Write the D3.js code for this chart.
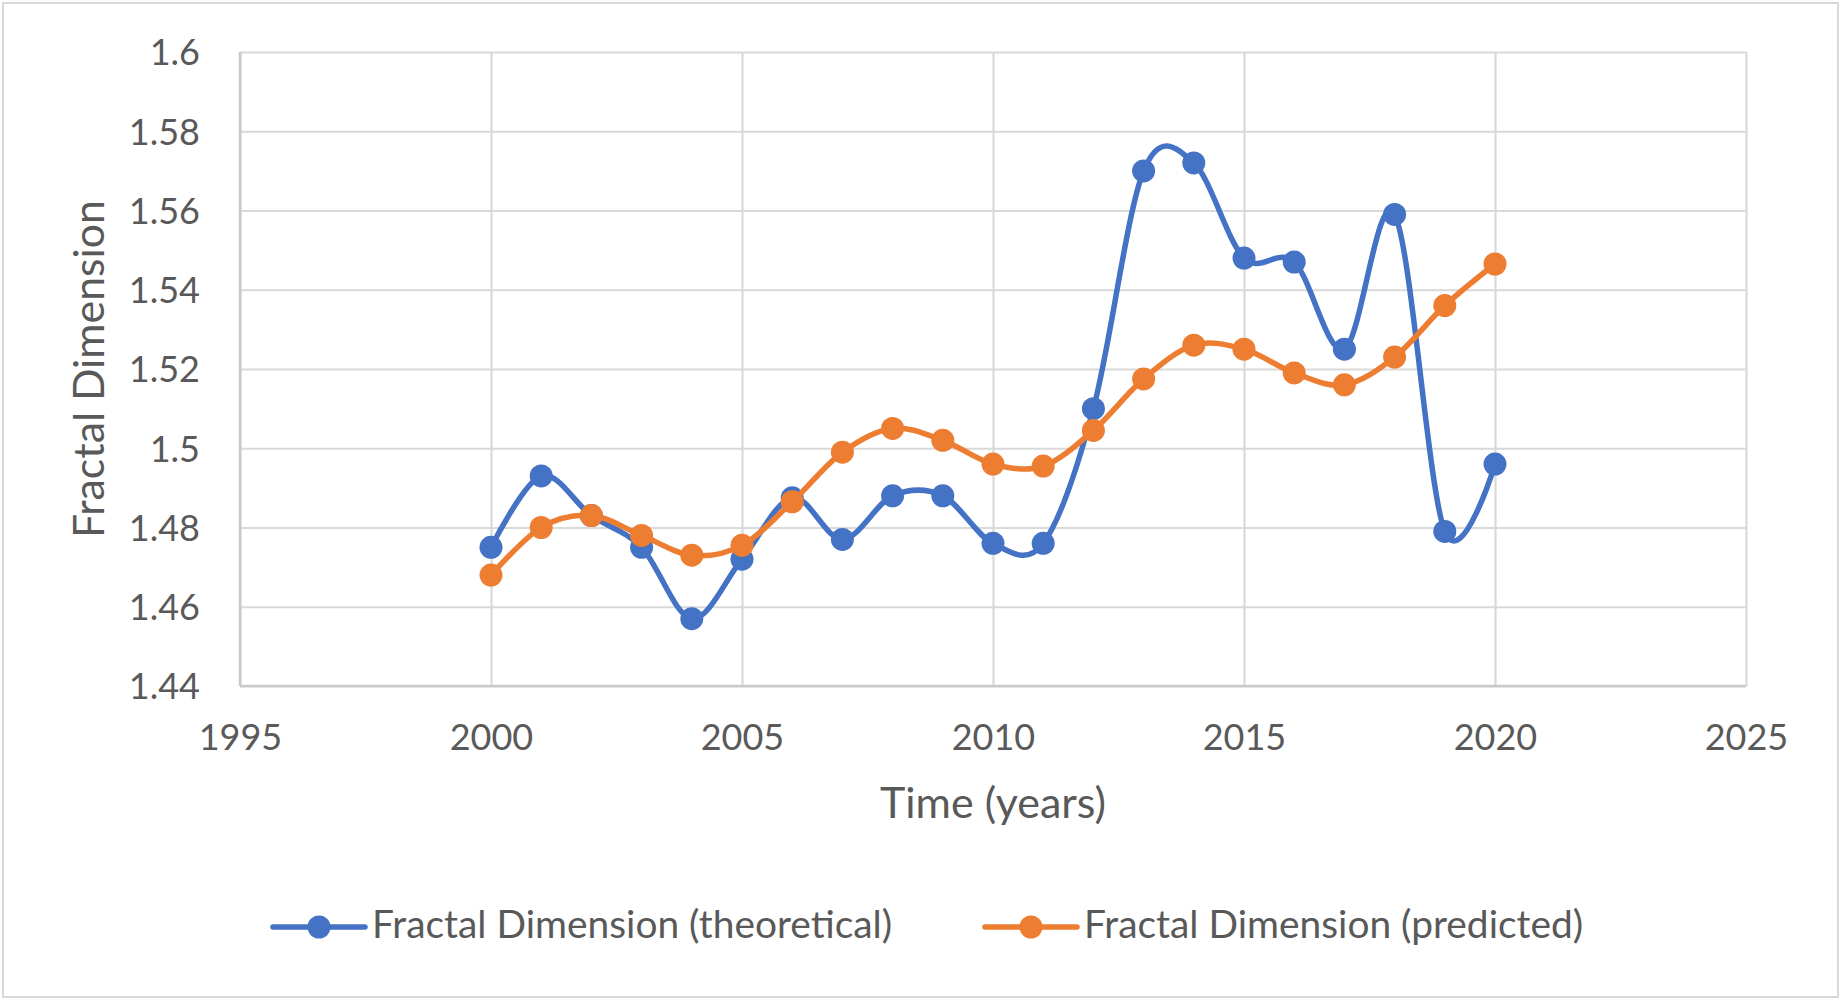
<!DOCTYPE html>
<html>
<head>
<meta charset="utf-8">
<script src="https://cdn.jsdelivr.net/npm/d3@7/dist/d3.min.js"></script>
<style>
  html, body { margin: 0; padding: 0; background: #fff; }
  svg { display: block; }
  text { font-family: Lato, "Open Sans", "DejaVu Sans", sans-serif; fill: #595959; }
</style>
</head>
<body>
<svg id="chart" width="1842" height="1003"></svg>
<script>
const years = [2000,2001,2002,2003,2004,2005,2006,2007,2008,2009,2010,2011,2012,2013,2014,2015,2016,2017,2018,2019,2020];
const theoretical = [1.475,1.493,1.483,1.475,1.457,1.472,1.4875,1.477,1.488,1.488,1.476,1.476,1.510,1.570,1.572,1.548,1.547,1.525,1.559,1.479,1.496];
const predicted = [1.468,1.480,1.483,1.478,1.473,1.4755,1.4865,1.499,1.505,1.502,1.496,1.4955,1.5045,1.5175,1.526,1.525,1.519,1.516,1.523,1.536,1.5465];
const xTicks = [1995,2000,2005,2010,2015,2020,2025];
const yTicks = [1.44,1.46,1.48,1.5,1.52,1.54,1.56,1.58,1.6];
const seriesNames = ["Fractal Dimension (theoretical)", "Fractal Dimension (predicted)"];
const seriesColors = ["#4472C4", "#ED7D31"];

const svg = d3.select("#chart");
const W = 1842, H = 1003;
const plot = {left: 240, right: 1746, top: 52, bottom: 686};

// chart border
svg.append("rect").attr("x", 3).attr("y", 3).attr("width", W - 7).attr("height", H - 9)
  .attr("fill", "#fff").attr("stroke", "#D9D9D9").attr("stroke-width", 2);

const x = d3.scaleLinear().domain([1995, 2025]).range([plot.left, plot.right]);
const y = d3.scaleLinear().domain([1.44, 1.6]).range([plot.bottom, plot.top]);

// gridlines
const gx = svg.append("g").attr("transform", `translate(0,${plot.bottom})`)
  .call(d3.axisBottom(x).tickValues(xTicks).tickSize(-(plot.bottom - plot.top)).tickFormat(""));
gx.select(".domain").remove();
gx.selectAll("line").attr("stroke", "#D9D9D9").attr("stroke-width", 2.2);

const gy = svg.append("g").attr("transform", `translate(${plot.left},0)`)
  .call(d3.axisLeft(y).tickValues(yTicks).tickSize(-(plot.right - plot.left)).tickFormat(""));
gy.select(".domain").remove();
gy.selectAll("line").attr("stroke", "#D9D9D9").attr("stroke-width", 2.2);

// axis lines
svg.append("line").attr("x1", plot.left).attr("x2", plot.left).attr("y1", plot.top).attr("y2", plot.bottom)
  .attr("stroke", "#C9C9C9").attr("stroke-width", 2.5);
svg.append("line").attr("x1", plot.left).attr("x2", plot.right).attr("y1", plot.bottom).attr("y2", plot.bottom)
  .attr("stroke", "#C9C9C9").attr("stroke-width", 2.5);

// tick labels
const xl = svg.append("g").attr("transform", `translate(0,${plot.bottom})`)
  .call(d3.axisBottom(x).tickValues(xTicks).tickSize(0).tickPadding(0).tickFormat(d3.format("d")));
xl.select(".domain").remove();
xl.selectAll("text").attr("y", 64).attr("dy", null)
  .style("font-size", "36px").style("font-family", "Lato, 'Open Sans', sans-serif").attr("fill", "#595959");

const yl = svg.append("g").attr("transform", `translate(${plot.left},0)`)
  .call(d3.axisLeft(y).tickValues(yTicks).tickSize(0).tickPadding(0).tickFormat(d => d3.format("")(+d.toFixed(2))));
yl.select(".domain").remove();
yl.selectAll("text").attr("x", -40).attr("dy", "0.36em")
  .style("font-size", "36px").style("font-family", "Lato, 'Open Sans', sans-serif").attr("fill", "#595959");

// axis titles
svg.append("text").attr("x", (plot.left + plot.right) / 2).attr("y", 818)
  .attr("text-anchor", "middle").style("font-size", "43px").text("Time (years)");
svg.append("text").attr("transform", `translate(104,${(plot.top + plot.bottom) / 2}) rotate(-90)`)
  .attr("text-anchor", "middle").style("font-size", "42.8px").text("Fractal Dimension");

// series
const line = d3.line().curve(d3.curveCardinal.tension(0)).x(d => x(d[0])).y(d => y(d[1]));
const seriesData = [theoretical, predicted];
seriesData.forEach((vals, i) => {
  const pts = years.map((yr, j) => [yr, vals[j]]);
  const g = svg.append("g");
  g.append("path").datum(pts).attr("d", line).attr("fill", "none")
    .attr("stroke", seriesColors[i]).attr("stroke-width", 5.5).attr("stroke-linejoin", "round").attr("stroke-linecap", "round");
  g.selectAll("circle").data(pts).enter().append("circle")
    .attr("cx", d => x(d[0])).attr("cy", d => y(d[1])).attr("r", 11.5).attr("fill", seriesColors[i]);
});

// legend
const legendItems = [{x0: 273, tx: 372}, {x0: 985, tx: 1084}];
const ly = 927;
legendItems.forEach((it, i) => {
  const g = svg.append("g");
  g.append("line").attr("x1", it.x0).attr("x2", it.x0 + 92).attr("y1", ly).attr("y2", ly)
    .attr("stroke", seriesColors[i]).attr("stroke-width", 5.5).attr("stroke-linecap", "round");
  g.append("circle").attr("cx", it.x0 + 46).attr("cy", ly).attr("r", 11.5).attr("fill", seriesColors[i]);
  g.append("text").attr("x", it.tx).attr("y", ly + 11).style("font-size", "38.9px").text(seriesNames[i]);
});
</script>
</body>
</html>
